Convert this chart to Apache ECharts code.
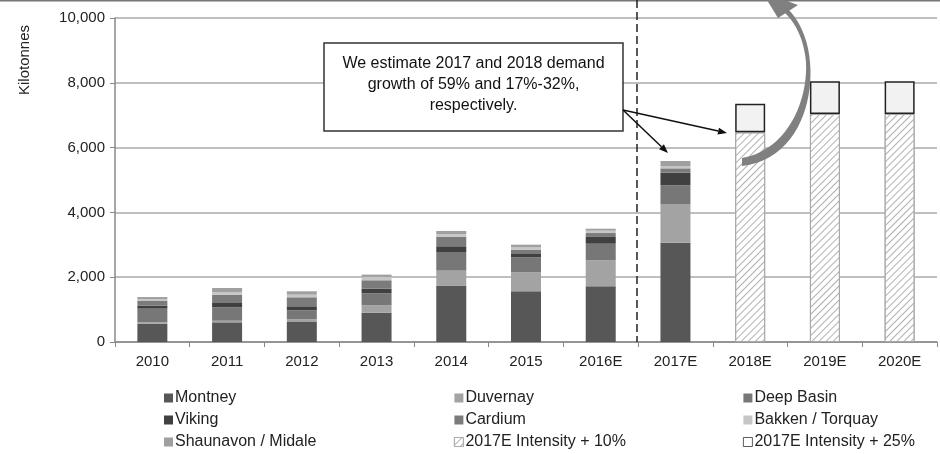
<!DOCTYPE html>
<html><head><meta charset="utf-8">
<script src="https://cdn.jsdelivr.net/npm/echarts@6/dist/echarts.min.js"></script>
<style>html,body{margin:0;padding:0;background:#fff}#c{width:940px;height:454px}</style>
</head><body><div id="c"></div>
<script>
var categories = ['2010','2011','2012','2013','2014','2015','2016E','2017E','2018E','2019E','2020E'];
var yTicks = [0, 2000, 4000, 6000, 8000, 10000];
var montney   = [560, 607, 618, 906, 1730, 1564, 1718, 3066, null, null, null];
var duvernay  = [50, 50, 82, 227, 473, 586, 802, 1183, null, null, null];
var deepBasin = [420, 412, 278, 371, 556, 463, 514, 586, null, null, null];
var viking    = [93, 134, 124, 144, 196, 103, 226, 391, null, null, null];
var cardium   = [155, 257, 278, 257, 288, 134, 103, 134, null, null, null];
var bakken    = [50, 82, 82, 103, 82, 72, 72, 72, null, null, null];
var shaunavon = [60, 124, 103, 72, 103, 82, 62, 154, null, null, null];
var intensity10 = [null, null, null, null, null, null, null, null, 6470, 7040, 7040];
var intensity25 = [null, null, null, null, null, null, null, null, 880, 1010, 1010];
var annotationText = 'We estimate 2017 and 2018 demand\ngrowth of 59% and 17%-32%,\nrespectively.';

var FONT = 'Liberation Sans, Arial, sans-serif';
var chart = echarts.init(document.getElementById('c'), null, {renderer: 'canvas'});

function bar(name, data, color, extra) {
  var s = {name: name, type: 'bar', stack: 'total', barWidth: 30, data: data,
    itemStyle: {color: color}, emphasis: {disabled: true}};
  if (extra) for (var k in extra) s[k] = extra[k];
  return s;
}

function sampleBezier(p0, p1, p2, p3, n) {
  var pts = [];
  for (var i = 0; i <= n; i++) {
    var t = i / n, u = 1 - t;
    pts.push([
      u*u*u*p0[0] + 3*u*u*t*p1[0] + 3*u*t*t*p2[0] + t*t*t*p3[0],
      u*u*u*p0[1] + 3*u*u*t*p1[1] + 3*u*t*t*p2[1] + t*t*t*p3[1]
    ]);
  }
  return pts;
}
function arrowGraphic(x1, y1, x2, y2) {
  var ang = Math.atan2(y2 - y1, x2 - x1), L = 9, W = 3.5;
  var bx = x2 - L*Math.cos(ang), by = y2 - L*Math.sin(ang);
  return [
    {type: 'line', shape: {x1: x1, y1: y1, x2: bx, y2: by}, style: {stroke: '#111', lineWidth: 1.5}, z: 20},
    {type: 'polygon', shape: {points: [[x2, y2], [bx - W*Math.sin(ang), by + W*Math.cos(ang)], [bx + W*Math.sin(ang), by - W*Math.cos(ang)]]}, style: {fill: '#111'}, z: 20}
  ];
}

var outer = sampleBezier([742,166],[795,160],[814,105],[810,62],20).concat(sampleBezier([810,62],[808,38],[799,20],[788,9],10));
var inner = sampleBezier([784,12],[796,23],[804,40],[806,62],10).concat(sampleBezier([806,62],[808,100],[788,150],[742,158],20));
var crescent = outer.concat(inner);

var graphics = [
  {type: 'line', shape: {x1: 0, y1: 0.5, x2: 940, y2: 0.5}, style: {stroke: '#777', lineWidth: 2}, z: 10},
  {type: 'text', x: 25, y: 60, rotation: Math.PI/2, style: {text: 'Kilotonnes', font: '15px ' + FONT, fill: '#222', textAlign: 'center', textVerticalAlign: 'middle'}},
  {type: 'line', shape: {x1: 637, y1: 0, x2: 637, y2: 342}, style: {stroke: '#222', lineWidth: 1.5, lineDash: [8, 4]}, z: 10},
  {type: 'rect', shape: {x: 324, y: 43, width: 299, height: 88}, style: {fill: '#fff', stroke: '#333', lineWidth: 1.5}, z: 15},
  {type: 'text', x: 473.5, y: 85, style: {text: annotationText, font: '16px ' + FONT, fill: '#111', textAlign: 'center', textVerticalAlign: 'middle', lineHeight: 21}, z: 16},
  {type: 'polygon', shape: {points: crescent}, style: {fill: '#808080'}, z: 18},
  {type: 'polygon', shape: {points: [[762,-8],[778,18],[798,5]]}, style: {fill: '#808080'}, z: 18}
].concat(arrowGraphic(623, 110, 668, 153)).concat(arrowGraphic(623, 110, 727, 133));

function legendCol(left, names) {
  return {left: left, top: 390, height: 64, padding: 0, orient: 'vertical', itemWidth: 9, itemHeight: 9, itemGap: 6, icon: 'rect',
    selectedMode: false, data: names,
    textStyle: {fontSize: 16, fontFamily: FONT, color: '#222', lineHeight: 16, padding: [0,0,0,-3]}};
}

chart.setOption({
  animation: false,
  textStyle: {fontFamily: FONT},
  grid: {left: 115, right: 3, top: 18, bottom: 112, containLabel: false},
  xAxis: {type: 'category', data: categories,
    axisLine: {lineStyle: {color: '#888', width: 1.5}},
    axisTick: {show: true, length: 5, lineStyle: {color: '#888'}},
    axisLabel: {fontSize: 15, color: '#222', margin: 12, fontFamily: FONT}},
  yAxis: {type: 'value', min: yTicks[0], max: yTicks[yTicks.length-1], interval: yTicks[1] - yTicks[0],
    axisLine: {show: true, lineStyle: {color: '#888', width: 1.5}},
    axisTick: {show: true, length: 5, lineStyle: {color: '#888'}},
    axisLabel: {fontSize: 15, color: '#222', margin: 10, fontFamily: FONT,
      formatter: function (v) { return v.toLocaleString('en-US'); }},
    splitLine: {lineStyle: {color: '#aaa', width: 1.5}}},
  legend: [
    legendCol(164, ['Montney', 'Viking', 'Shaunavon / Midale']),
    legendCol(454, ['Duvernay', 'Cardium', {name: '2017E Intensity + 10%', itemStyle: {borderWidth: 0.8}}]),
    legendCol(743, ['Deep Basin', 'Bakken / Torquay', {name: '2017E Intensity + 25%', itemStyle: {borderWidth: 0.8, borderColor: '#333', color: '#fff'}}])
  ],
  series: [
    bar('Montney', montney, '#575757'),
    bar('Duvernay', duvernay, '#a3a3a3'),
    bar('Deep Basin', deepBasin, '#777777'),
    bar('Viking', viking, '#404040'),
    bar('Cardium', cardium, '#7b7b7b'),
    bar('Bakken / Torquay', bakken, '#c6c6c6'),
    bar('Shaunavon / Midale', shaunavon, '#a0a0a0'),
    bar('2017E Intensity + 10%', intensity10, '#ffffff', {itemStyle: {color: '#ffffff', borderColor: '#a8a8a8', borderWidth: 1,
      decal: {symbol: 'rect', symbolSize: 1, dashArrayX: [1, 0], dashArrayY: [1, 4], rotation: -Math.PI/4, color: '#b0b0b0'}}}),
    bar('2017E Intensity + 25%', intensity25, '#f2f2f2', {itemStyle: {color: '#f2f2f2', borderColor: '#222', borderWidth: 1.5}})
  ],
  graphic: graphics
});
</script></body></html>
